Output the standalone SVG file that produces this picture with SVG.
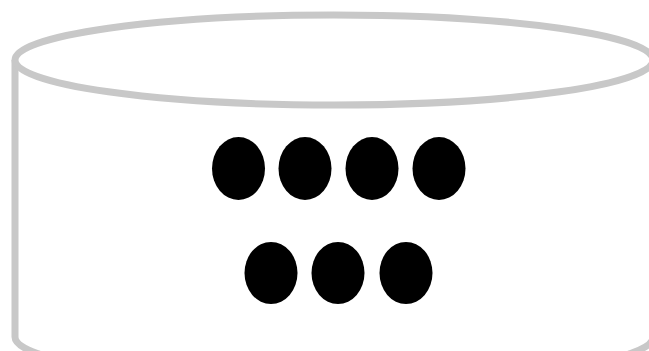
<svg xmlns="http://www.w3.org/2000/svg" width="649" height="351" viewBox="0 0 649 351">
<style>
.cyl{fill:#ffffff;stroke:#c8c8c8;stroke-width:7}
.dot{fill:#000000}
</style>
<rect width="649" height="351" fill="#ffffff"/>
<g id="cylinder">
<path class="cyl" d="M15,60 L15,337 A319,45 0 0 0 653,337 L653,60"/>
<ellipse class="cyl" cx="334" cy="60" rx="319" ry="45"/>
</g>
<g id="dots">
<ellipse id="d1" class="dot" cx="238.5" cy="168.5" rx="26.5" ry="31.5"/>
<ellipse id="d2" class="dot" cx="305" cy="168.5" rx="26.5" ry="31.5"/>
<ellipse id="d3" class="dot" cx="372" cy="168.5" rx="26.5" ry="31.5"/>
<ellipse id="d4" class="dot" cx="439" cy="168.5" rx="26.5" ry="31.5"/>
<ellipse id="d5" class="dot" cx="271" cy="273" rx="26.5" ry="31"/>
<ellipse id="d6" class="dot" cx="338" cy="273" rx="26.5" ry="31"/>
<ellipse id="d7" class="dot" cx="406" cy="273" rx="26.5" ry="31"/>
</g>
</svg>
